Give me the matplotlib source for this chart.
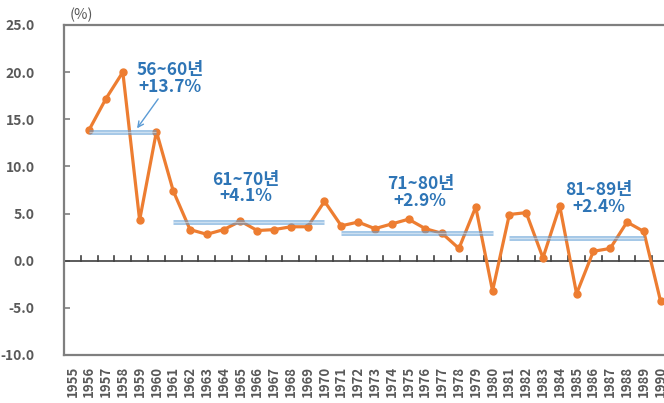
import matplotlib
matplotlib.use("Agg")
import matplotlib.pyplot as plt
import numpy as np

plt.rcParams['font.family'] = ['Noto Sans CJK KR', 'DejaVu Sans']

# yearly growth rate (%), 1955 has no value
years = list(range(1955, 1991))
growth = [np.nan, 13.9, 17.2, 20.0, 4.3, 13.7, 7.4, 3.3, 2.8, 3.3,
          4.2, 3.2, 3.3, 3.6, 3.6, 6.3, 3.7, 4.1, 3.4, 3.9,
          4.4, 3.4, 2.9, 1.3, 5.7, -3.2, 4.9, 5.1, 0.3, 5.8,
          -3.5, 1.0, 1.3, 4.1, 3.1, -4.3]

# period averages
periods = ['56~60년', '61~70년', '71~80년', '81~89년']
period_start = [1956, 1961, 1971, 1981]
period_end = [1960, 1970, 1980, 1989]
period_avg = [13.7, 4.1, 2.9, 2.4]
avg_labels = ['+13.7%', '+4.1%', '+2.9%', '+2.4%']
label_x = [5.8, 10.3, 20.7, 31.3]
label_y = [20.2, 8.6, 8.1, 7.5]

orange = '#ed7d31'
blue_txt = '#2e75b6'
gray_txt = '#595959'

fig = plt.figure(figsize=(6.64, 4.03), dpi=100)
ax = fig.add_axes([64 / 664, 48 / 403, 605 / 664, 330 / 403])

x = np.arange(len(years))
ax.plot(x, growth, color=orange, lw=2.3, marker='o', ms=5, zorder=3)

# averages as translucent double lines
for s, e, v in zip(period_start, period_end, period_avg):
    xs = [years.index(s), years.index(e)]
    ax.plot(xs, [v, v], color='#5b9bd5', lw=3.6, alpha=0.55, zorder=4,
            solid_capstyle='butt')
    ax.plot(xs, [v, v], color='white', lw=0.8, alpha=0.45, zorder=5,
            solid_capstyle='butt')

for i in range(len(periods)):
    ax.text(label_x[i], label_y[i], periods[i], ha='center', va='center',
            fontsize=12.5, fontweight='bold', color=blue_txt, zorder=6)
    ax.text(label_x[i], label_y[i] - 1.75, avg_labels[i], ha='center',
            va='center', fontsize=12.5, fontweight='bold', color=blue_txt,
            zorder=6)

ax.annotate('', xy=(3.75, 13.8), xytext=(5.2, 17.4),
            arrowprops=dict(arrowstyle='->', color='#5b9bd5', lw=1.0),
            zorder=6)

# zero line with boundary ticks
ax.axhline(0, color='#404040', lw=1.2, zorder=2)
for b in np.arange(0.5, len(years) - 0.5, 1):
    ax.plot([b, b], [0, 0.45], color='#404040', lw=1.2, zorder=2)

ax.set_xlim(-0.5, len(years) - 0.5)
ax.set_ylim(-10, 25)
ax.set_yticks(np.arange(-10, 26, 5))
ax.set_yticklabels([f'{v:.1f}' for v in np.arange(-10, 26, 5)],
                   fontsize=10, fontweight='bold', color=gray_txt)
ax.tick_params(axis='y', direction='in', length=4, width=1.2,
               color='#7f7f7f', pad=21)

ax.set_xticks(x)
ax.set_xticklabels([str(y) for y in years], rotation=90, fontsize=9.5,
                   fontweight='bold', color=gray_txt)
ax.tick_params(axis='x', length=0, pad=8)

for side in ['left', 'top', 'bottom', 'right']:
    ax.spines[side].set_color('#7f7f7f')
    ax.spines[side].set_linewidth(1.6)

fig.text(81 / 664, 1 - 15 / 403, '(%)', ha='center', va='center',
         fontsize=10.5, color=gray_txt)

fig.savefig('out.png', dpi=100)
